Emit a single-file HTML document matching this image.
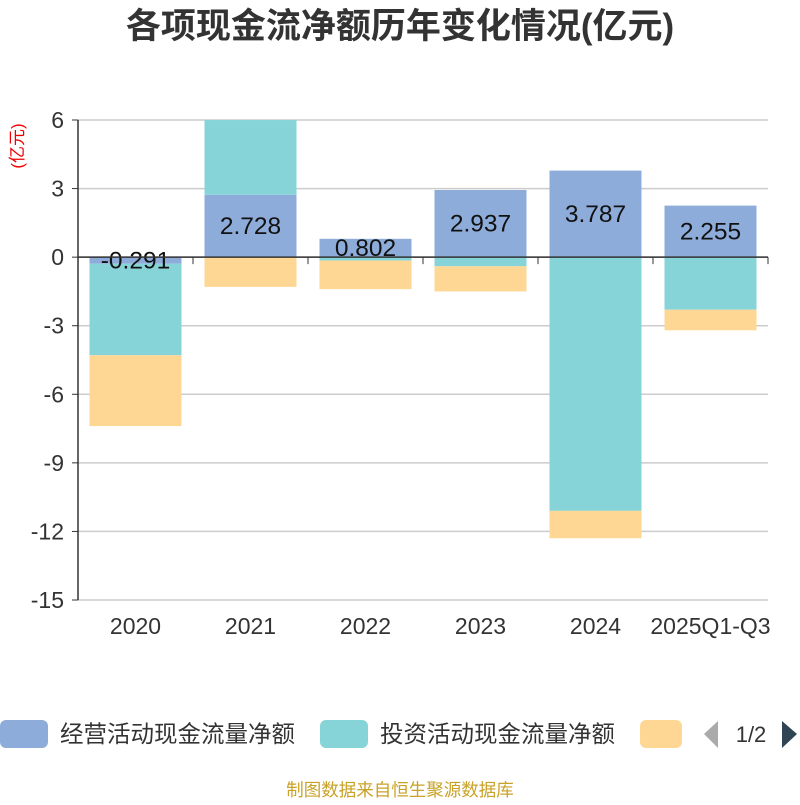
<!DOCTYPE html>
<html><head><meta charset="utf-8"><style>
body{margin:0;background:#fff;font-family:"Liberation Sans","Noto Sans CJK SC",sans-serif;}
</style></head><body>
<svg width="800" height="800" xmlns="http://www.w3.org/2000/svg" font-family="Liberation Sans, Noto Sans CJK SC, sans-serif">
<text x="400" y="38" text-anchor="middle" font-size="35" font-weight="bold" fill="#333">各项现金流净额历年变化情况(亿元)</text>
<text x="23" y="146" text-anchor="middle" font-size="17" fill="#e00" transform="rotate(-90 23 146)">(亿元)</text>
<g id="grid"></g><g id="bars"></g><g id="axes"></g>
<g>
<rect x="0" y="720" width="48" height="28" rx="6" fill="#8eacd9"/>
<text x="60" y="742" font-size="23.5" fill="#333">经营活动现金流量净额</text>
<rect x="320" y="720" width="48" height="28" rx="6" fill="#86d4d8"/>
<text x="380" y="742" font-size="23.5" fill="#333">投资活动现金流量净额</text>
<rect x="640" y="720" width="42" height="28" rx="6" fill="#fed795"/>
<path d="M718 721 L704 734 L718 748 Z" fill="#aaa"/>
<text x="751" y="742" text-anchor="middle" font-size="22" fill="#333">1/2</text>
<path d="M782 721 L797 734 L782 748 Z" fill="#2f4554"/>
</g>
<text x="400" y="796" text-anchor="middle" font-size="17.5" fill="#c9a227">制图数据来自恒生聚源数据库</text>
</svg>
<script>
const categories=["2020","2021","2022","2023","2024","2025Q1-Q3"];
const operating=[-0.291,2.728,0.802,2.937,3.787,2.255];
const investing=[-4.0,3.27,-0.15,-0.4,-11.1,-2.3];
const financing=[-3.1,-1.3,-1.25,-1.1,-1.2,-0.9];
const yTicks=[6,3,0,-3,-6,-9,-12,-15];
const NS="http://www.w3.org/2000/svg";
const x0=78,x1=768,yTop=120,yBot=600,yMax=6,yMin=-15;
const y=v=>yTop+(yMax-v)/(yMax-yMin)*(yBot-yTop);
const band=(x1-x0)/categories.length;
const cx=i=>x0+band*(i+0.5);
const bw=92;
function mk(tag,attrs,parent){const e=document.createElementNS(NS,tag);for(const k in attrs)e.setAttribute(k,attrs[k]);document.getElementById(parent).appendChild(e);return e;}
yTicks.forEach(t=>{
 const l=mk('line',{x1:x0,x2:x1,y1:y(t),y2:y(t),stroke:'#ccc','stroke-width':1.5},'grid');
 
 
 const tk=mk('line',{x1:x0-6,x2:x0,y1:y(t),y2:y(t),stroke:'#333'},'axes');
 
 
 const tx=mk('text',{x:x0-14,y:y(t)+8,'text-anchor':'end','font-size':23,fill:'#333'},'axes');
 tx.textContent=t;
 
 
});
const colors=['#8eacd9','#86d4d8','#fed795'];
const series=[operating,investing,financing];
categories.forEach((c,i)=>{
 let pos=0,neg=0;
 series.forEach((s,k)=>{
  const v=s[i];let a,b;
  if(v>=0){a=pos;b=pos+v;pos=b;}else{a=neg;b=neg+v;neg=b;}
  const top=y(Math.min(Math.max(a,b),yMax)),bot=y(Math.min(a,b));
  const r=mk('rect',{x:cx(i)-bw/2,y:top,width:bw,height:Math.max(0,bot-top),fill:colors[k]},'bars');
  
  
 });
 const v=operating[i];
 const t=mk('text',{x:cx(i),y:y(v/2)+8,'text-anchor':'middle','font-size':24.5,fill:'#111'},'bars');
 t.textContent=v.toFixed(3);
 
 
 const xl=mk('text',{x:cx(i),y:634,'text-anchor':'middle','font-size':23,fill:'#333'},'axes');
 xl.textContent=c;
 
 
});
const ya=mk('line',{x1:x0,x2:x0,y1:yTop,y2:yBot,stroke:'#333','stroke-width':1.5},'axes');


const xa=mk('line',{x1:x0,x2:x1,y1:y(0),y2:y(0),stroke:'#333','stroke-width':1.5},'axes');


for(let i=0;i<=categories.length;i++){
 const tk=mk('line',{x1:x0+band*i,x2:x0+band*i,y1:y(0),y2:y(0)+7,stroke:'#333'},'axes');
 
 
}
</script>
</body></html>
